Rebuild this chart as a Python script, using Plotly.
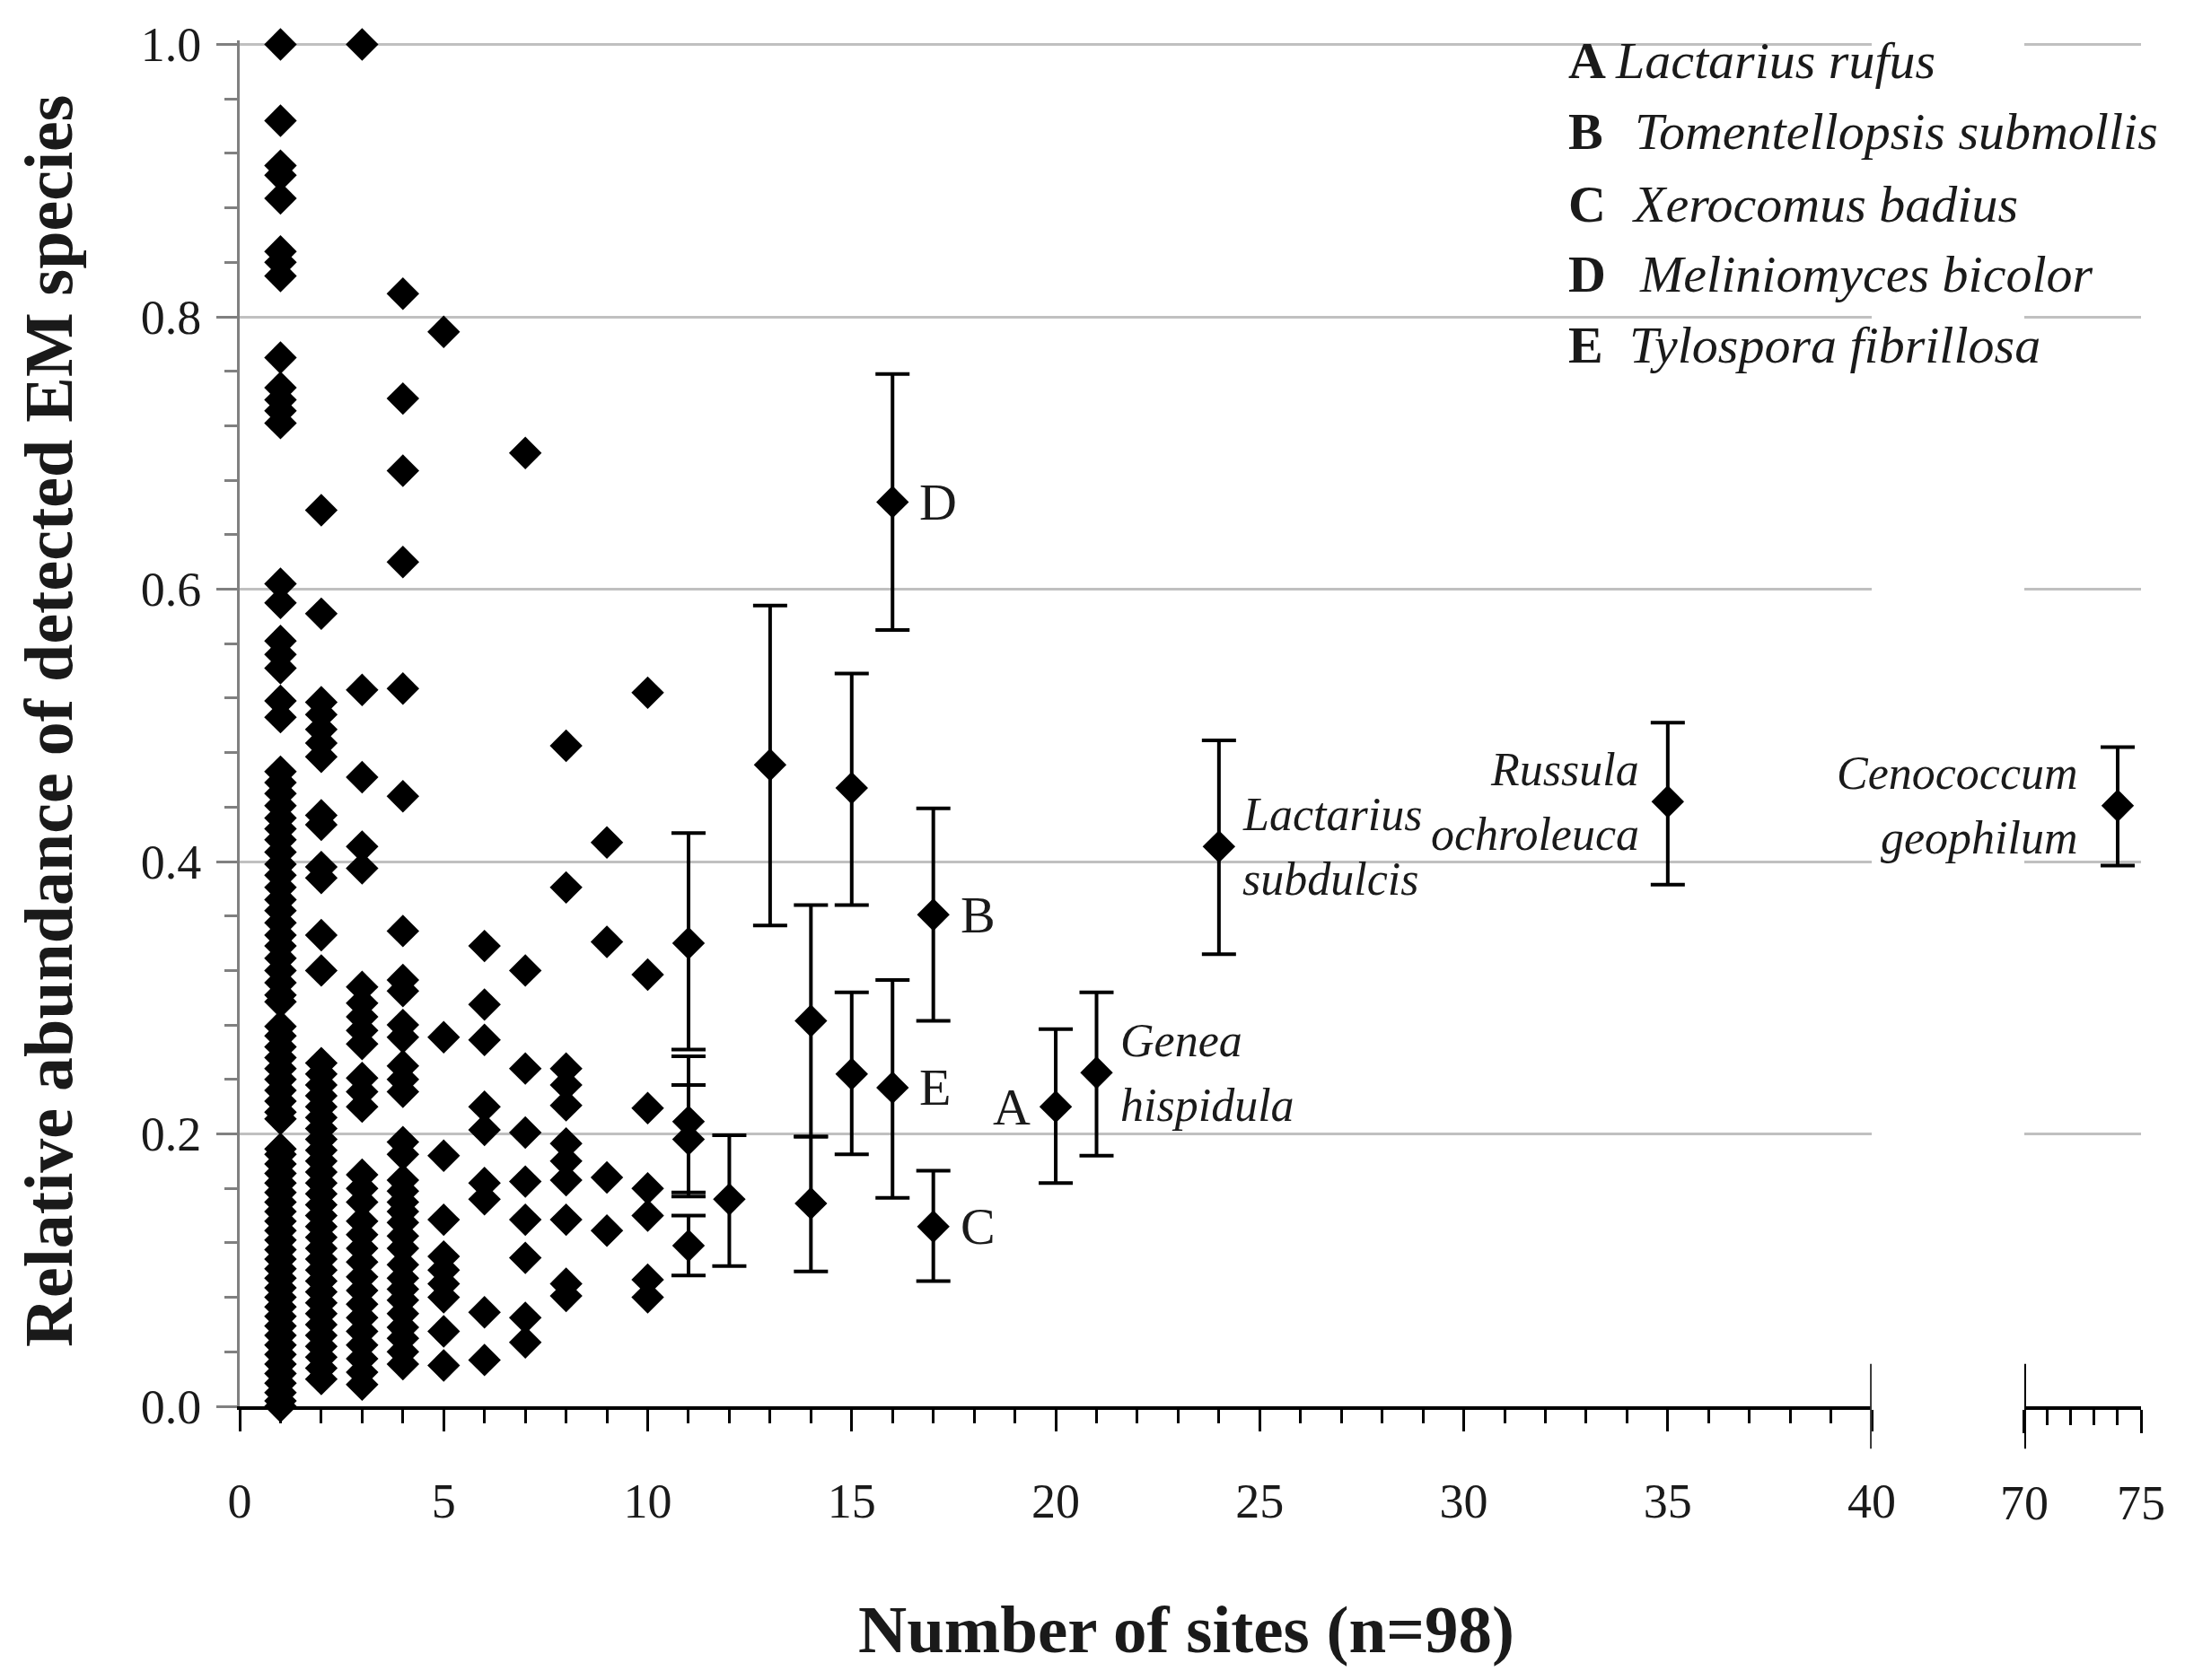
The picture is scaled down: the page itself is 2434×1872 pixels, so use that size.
import plotly.graph_objects as go

FONT = "Liberation Serif, DejaVu Serif, serif"

# relative abundance of species without error bars, one list per number of sites
sites_1 = [1.0, 0.944, 0.911, 0.904, 0.887, 0.848, 0.840, 0.830, 0.770, 0.748, 0.739, 0.731, 0.722,
           0.604, 0.590, 0.562, 0.552, 0.542, 0.518, 0.506,
           0.466, 0.458, 0.450, 0.441, 0.432, 0.424, 0.416, 0.407, 0.398, 0.390, 0.381, 0.372, 0.364,
           0.355, 0.346, 0.338, 0.329, 0.320, 0.311, 0.302, 0.297, 0.279, 0.272, 0.264, 0.256, 0.248,
           0.240, 0.232, 0.224, 0.216, 0.211, 0.189, 0.185, 0.178, 0.171, 0.164, 0.157, 0.150, 0.143,
           0.136, 0.129, 0.122, 0.115, 0.108, 0.101, 0.094, 0.087, 0.080, 0.073, 0.066, 0.059, 0.052,
           0.045, 0.038, 0.031, 0.024, 0.017, 0.010, 0.004, 0.0]
sites_2 = [0.658, 0.582, 0.517, 0.508, 0.497, 0.487, 0.477, 0.434, 0.427, 0.396, 0.388, 0.346, 0.320,
           0.252, 0.244, 0.236, 0.228, 0.220, 0.212, 0.204, 0.196, 0.188, 0.180, 0.172, 0.164, 0.156,
           0.148, 0.140, 0.132, 0.124, 0.116, 0.108, 0.100, 0.092, 0.084, 0.076, 0.068, 0.060, 0.052,
           0.044, 0.036, 0.028, 0.020]
sites_3 = [1.0, 0.526, 0.462, 0.411, 0.395, 0.308, 0.296, 0.286, 0.276, 0.266, 0.241, 0.231, 0.220,
           0.170, 0.160, 0.150, 0.136, 0.126, 0.116, 0.106, 0.095, 0.085, 0.075, 0.065, 0.055, 0.045,
           0.035, 0.025, 0.016]
sites_4 = [0.817, 0.740, 0.687, 0.620, 0.527, 0.448, 0.349, 0.313, 0.305, 0.280, 0.271, 0.250, 0.240,
           0.231, 0.194, 0.185, 0.166, 0.158, 0.150, 0.143, 0.135, 0.125, 0.116, 0.104, 0.094, 0.086,
           0.078, 0.068, 0.058, 0.050, 0.040, 0.031]
sites_5 = [0.789, 0.271, 0.184, 0.137, 0.110, 0.100, 0.090, 0.080, 0.055, 0.030]
sites_6 = [0.338, 0.295, 0.269, 0.220, 0.203, 0.164, 0.152, 0.069, 0.034]
sites_7 = [0.700, 0.320, 0.248, 0.201, 0.165, 0.137, 0.109, 0.065, 0.047]
sites_8 = [0.485, 0.381, 0.248, 0.236, 0.221, 0.193, 0.180, 0.166, 0.137, 0.090, 0.081]
sites_9 = [0.414, 0.341, 0.168, 0.129]
sites_10 = [0.524, 0.317, 0.219, 0.160, 0.140, 0.093, 0.080]

# species with error bars: mean, upper and lower end of the bar
eb_sites = [11, 11, 11, 11, 12, 13, 14, 14, 15, 15, 16, 16, 17, 17, 20, 21, 24, 35]
eb_mean = [0.340, 0.209, 0.196, 0.118, 0.152, 0.471, 0.283, 0.149, 0.454, 0.244,
           0.664, 0.234, 0.361, 0.132, 0.220, 0.245, 0.411, 0.444]
eb_upper = [0.421, 0.257, 0.236, 0.140, 0.199, 0.588, 0.368, 0.198, 0.538, 0.304,
            0.758, 0.313, 0.439, 0.173, 0.277, 0.304, 0.489, 0.502]
eb_lower = [0.262, 0.157, 0.154, 0.096, 0.103, 0.353, 0.198, 0.099, 0.368, 0.185,
            0.570, 0.153, 0.283, 0.092, 0.164, 0.184, 0.332, 0.383]

# Cenococcum geophilum, right of the axis break
ceno_sites = [74]
ceno_mean = [0.441]
ceno_upper = [0.484]
ceno_lower = [0.397]

y_ticks = [0.0, 0.2, 0.4, 0.6, 0.8, 1.0]

legend_letters = ["A", "B", "C", "D", "E"]
legend_names = ["Lactarius rufus", "Tomentellopsis submollis", "Xerocomus badius",
                "Meliniomyces bicolor", "Tylospora fibrillosa"]

columns = [sites_1, sites_2, sites_3, sites_4, sites_5, sites_6, sites_7, sites_8, sites_9, sites_10]
pts_x = []
pts_y = []
for i, col in enumerate(columns):
    for v in col:
        pts_x.append(i + 1)
        pts_y.append(v)

marker = dict(symbol="diamond", size=28, color="black", line=dict(width=0))

fig = go.Figure()
fig.add_trace(go.Scatter(x=pts_x, y=pts_y, mode="markers", marker=marker,
                         cliponaxis=False, xaxis="x", yaxis="y"))
fig.add_trace(go.Scatter(
    x=eb_sites, y=eb_mean, mode="markers", marker=marker, cliponaxis=False,
    error_y=dict(type="data", symmetric=False,
                 array=[u - m for u, m in zip(eb_upper, eb_mean)],
                 arrayminus=[m - l for m, l in zip(eb_mean, eb_lower)],
                 color="black", thickness=4, width=19),
    xaxis="x", yaxis="y"))
fig.add_trace(go.Scatter(
    x=ceno_sites, y=ceno_mean, mode="markers", marker=marker, cliponaxis=False,
    error_y=dict(type="data", symmetric=False,
                 array=[u - m for u, m in zip(ceno_upper, ceno_mean)],
                 arrayminus=[m - l for m, l in zip(ceno_mean, ceno_lower)],
                 color="black", thickness=4, width=19),
    xaxis="x2", yaxis="y2"))

grid = dict(showgrid=True, gridcolor="#c0c0c0", gridwidth=3, zeroline=False)

# the page body has an 8px margin, so the figure is a little smaller than the window;
# the y range goes a hair above 1.0 so the top gridline is not clipped
fig.update_layout(
    width=2418, height=1856,
    margin=dict(l=259, r=41, t=26, b=297),
    paper_bgcolor="white", plot_bgcolor="white",
    showlegend=False,
    font=dict(family=FONT, size=54, color="#1a1a1a"),
    xaxis=dict(domain=[0, 0.8584], range=[0, 40], anchor="y",
               tickmode="linear", tick0=0, dtick=5,
               ticks="outside", ticklen=24, tickwidth=3, tickcolor="black",
               showline=True, linecolor="black", linewidth=4,
               showgrid=False, zeroline=False, ticklabelstandoff=31,
               minor=dict(dtick=1, ticks="outside", ticklen=15, tickwidth=3,
                          tickcolor="black", showgrid=False)),
    xaxis2=dict(domain=[0.9386, 1.0], range=[70, 75], anchor="y2",
                tickvals=[70, 75],
                ticks="outside", ticklen=26, tickwidth=3, tickcolor="black",
                showline=True, linecolor="black", linewidth=4,
                showgrid=False, zeroline=False, ticklabelstandoff=31,
                minor=dict(dtick=1, ticks="outside", ticklen=17, tickwidth=3,
                           tickcolor="black", showgrid=False)),
    yaxis=dict(domain=[0, 1], range=[0, 1.003], anchor="x",
               tickvals=y_ticks, ticktext=[f"{v:.1f}" for v in y_ticks],
               ticks="outside", ticklen=23, tickwidth=3, tickcolor="#808080",
               showline=True, linecolor="#808080", linewidth=3,
               ticklabelstandoff=6,
               minor=dict(tick0=0, dtick=0.04, ticks="outside", ticklen=14, tickwidth=3,
                          tickcolor="#808080", showgrid=False),
               **grid),
    yaxis2=dict(domain=[0, 1], range=[0, 1.003], anchor="x2", matches="y",
                tickvals=y_ticks,
                showline=False, ticks="", showticklabels=False, **grid),
)

# axis break marks at 40 and 70
fig.add_shape(type="line", xref="x", yref="paper", x0=40, x1=40, y0=-0.031, y1=0.031,
              line=dict(color="#333333", width=4))
fig.add_shape(type="line", xref="x2", yref="paper", x0=70, x1=70, y0=-0.031, y1=0.031,
              line=dict(color="black", width=4))

# axis titles
fig.add_annotation(xref="paper", yref="paper", x=0.498, y=-0.163, showarrow=False,
                   text="<b>Number of sites (n=98)</b>", font=dict(size=75, color="#1a1a1a"),
                   xanchor="center", yanchor="middle")
fig.add_annotation(xref="paper", yref="paper", x=-0.1006, y=0.502, showarrow=False,
                   text="<b>Relative abundance of detected EM species</b>", textangle=-90,
                   font=dict(size=76, color="#1a1a1a"), xanchor="center", yanchor="middle")

# key in the top right corner
key_y = [0.985, 0.933, 0.880, 0.829, 0.777]
key_name_x = [0.7224, 0.7328, 0.7314, 0.7351, 0.7299]
for letter, name, ky, nx in zip(legend_letters, legend_names, key_y, key_name_x):
    fig.add_annotation(xref="paper", yref="paper", x=0.698, y=ky, showarrow=False,
                       text="<b>" + letter + "</b>", font=dict(size=58),
                       xanchor="left", yanchor="middle")
    fig.add_annotation(xref="paper", yref="paper", x=nx, y=ky, showarrow=False,
                       text="<i>" + name + "</i>", font=dict(size=58),
                       xanchor="left", yanchor="middle")

# letters next to the points
letter_pts = [("D", 16, 0.664, "left"), ("B", 17, 0.361, "left"), ("E", 16, 0.234, "left"),
              ("C", 17, 0.132, "left"), ("A", 20, 0.220, "right")]
for txt, lx, ly, side in letter_pts:
    fig.add_annotation(x=lx, y=ly, xref="x", yref="y", text=txt, showarrow=False,
                       font=dict(size=58), xanchor=side, yanchor="middle",
                       xshift=28 if side == "left" else -26)

# species names next to the points
species_pts = [("Lactarius", "subdulcis", 24, 0.411, "left", "x", "y", 24),
               ("Genea", "hispidula", 21, 0.245, "left", "x", "y", 24),
               ("Russula", "ochroleuca", 35, 0.444, "right", "x", "y", -30),
               ("Cenococcum", "geophilum", 74, 0.441, "right", "x2", "y2", -42)]
for top, bottom, sx, sy, side, xr, yr, dx in species_pts:
    for line_txt, shift in ((top, 36), (bottom, -36)):
        fig.add_annotation(x=sx, y=sy, xref=xr, yref=yr, text="<i>" + line_txt + "</i>",
                           showarrow=False, font=dict(size=52), xanchor=side, yanchor="middle",
                           xshift=dx, yshift=shift)

fig.write_html("out.html")
